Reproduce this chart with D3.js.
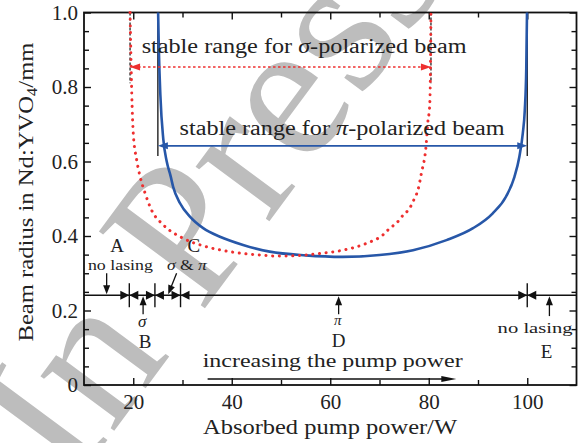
<!DOCTYPE html>
<html><head><meta charset="utf-8">
<script src="https://cdn.jsdelivr.net/npm/d3@7"></script>
<style>body{margin:0;background:#fff}svg{display:block}text{font-family:"Liberation Serif",serif;fill:#222}</style>
</head><body>
<svg id="c" width="579" height="443"></svg>
<script>
// ---- data ----
const xMajorTicks = [20, 40, 60, 80, 100];
const xMinorTicks = [30, 50, 70, 90];
const yMajorTicks = [0, 0.2, 0.4, 0.6, 0.8, 1.0];
const yMinorTicks = [0.05,0.1,0.15,0.25,0.3,0.35,0.45,0.5,0.55,0.65,0.7,0.75,0.85,0.9,0.95];
// pi-polarized beam radius (blue solid)
const piPower = [25.05,25.2,25.5,26.1,26.8,27.6,28.1,29.5,31.5,34.2,37.6,42.3,47.7,55,62.5,70,76.8,83.6,89,93,95.7,97.4,98.4,99.1,99.5,99.8,99.95];
const piRadius = [1.0,0.90,0.78,0.66,0.60,0.56,0.532,0.488,0.452,0.421,0.398,0.376,0.358,0.348,0.344,0.349,0.362,0.389,0.421,0.461,0.506,0.559,0.613,0.676,0.738,0.85,1.0];
// sigma-polarized beam radius (red dotted)
const sigmaPower = [19.35,19.5,19.7,20.0,20.7,21.4,22.4,23.7,26.1,30.1,34.9,39.6,45.7,50,54,58.5,62.6,67.3,70.7,72.1,73.4,74.8,76.1,77.1,77.8,78.5,79.5,79.8,80.2,80.35,80.45];
const sigmaRadius = [1.0,0.9,0.78,0.676,0.604,0.559,0.515,0.470,0.430,0.394,0.371,0.358,0.349,0.346,0.348,0.354,0.362,0.380,0.403,0.421,0.434,0.456,0.474,0.501,0.523,0.568,0.649,0.703,0.752,0.85,1.0];
const sigmaRange = [19.35, 80.45];
const piRange = [25.0, 100.0];
const regionBounds = [19.2, 24.4, 29.6, 100];
const regionLabels = ["A","B","C","D","E"];

// ---- layout ----
const svg = d3.select("#c");
const x = d3.scaleLinear().domain([10,110]).range([84,576.5]);
const y = d3.scaleLinear().domain([0,1]).range([385,12.5]);
const blue = "#2757a8", red = "#ee2f2f";

// watermark
svg.append("text").text("In Press")
  .attr("transform","translate(72,488) rotate(-53.5)")
  .style("font-size","200px").style("fill","#bdbdbd");

// axes
const fmt = d => d === 0 ? "0" : d.toFixed(1);
function ax(gen, tr){ const g = svg.append("g").attr("transform",tr).call(gen); g.select(".domain").remove(); g.selectAll("line").attr("stroke","#111").attr("stroke-width",1.4); g.selectAll("text").style("font-size","21px").style("fill","#222"); return g; }
ax(d3.axisBottom(x).tickValues(xMajorTicks).tickSize(-7).tickPadding(9).tickSizeOuter(0), `translate(0,${y(0)})`);
ax(d3.axisBottom(x).tickValues(xMinorTicks).tickSize(-5).tickFormat("").tickSizeOuter(0), `translate(0,${y(0)})`);
ax(d3.axisTop(x).tickValues(xMajorTicks).tickSize(-7).tickFormat("").tickSizeOuter(0), `translate(0,${y(1)})`);
ax(d3.axisTop(x).tickValues(xMinorTicks).tickSize(-5).tickFormat("").tickSizeOuter(0), `translate(0,${y(1)})`);
ax(d3.axisLeft(y).tickValues(yMajorTicks).tickSize(-7).tickPadding(6).tickFormat(fmt).tickSizeOuter(0), `translate(${x(10)},0)`);
ax(d3.axisLeft(y).tickValues(yMinorTicks).tickSize(-5).tickFormat("").tickSizeOuter(0), `translate(${x(10)},0)`);
ax(d3.axisRight(y).tickValues(yMajorTicks).tickSize(-7).tickFormat("").tickSizeOuter(0), `translate(${x(110)},0)`);
ax(d3.axisRight(y).tickValues(yMinorTicks).tickSize(-5).tickFormat("").tickSizeOuter(0), `translate(${x(110)},0)`);
svg.append("rect").attr("x",x(10)).attr("y",y(1)).attr("width",x(110)-x(10)).attr("height",y(0)-y(1))
  .attr("fill","none").attr("stroke","#111").attr("stroke-width",1.8);

// helper: arrowhead
function head(x1,y1,x2,y2,len,w,color){
  const a = Math.atan2(y2-y1,x2-x1), c=Math.cos(a), s=Math.sin(a);
  const bx = x2-len*c, by = y2-len*s;
  svg.append("path").attr("d",`M${x2},${y2}L${bx - w/2*s},${by + w/2*c}L${bx + w/2*s},${by - w/2*c}Z`).attr("fill",color);
}
function arrow(x1,y1,x2,y2,color,sw,len,w){
  const a = Math.atan2(y2-y1,x2-x1);
  svg.append("line").attr("x1",x1).attr("y1",y1).attr("x2",x2-0.6*len*Math.cos(a)).attr("y2",y2-0.6*len*Math.sin(a)).attr("stroke",color).attr("stroke-width",sw);
  head(x1,y1,x2,y2,len,w,color);
}

// boundary lines
sigmaRange.forEach(p => svg.append("line").attr("x1",x(p)).attr("x2",x(p)).attr("y1",y(1)).attr("y2",y(0.81))
  .attr("stroke","#111").attr("stroke-width",1.2).attr("stroke-dasharray","3,2"));
piRange.forEach(p => svg.append("line").attr("x1",x(p)).attr("x2",x(p)).attr("y1",y(1)).attr("y2",y(0.615))
  .attr("stroke","#111").attr("stroke-width",1.3));

// curves
const line = d3.line().x(d=>x(d[0])).y(d=>y(d[1])).curve(d3.curveMonotoneX);
svg.append("path").datum(piPower.map((p,i)=>[p,piRadius[i]])).attr("d",line)
  .attr("fill","none").attr("stroke",blue).attr("stroke-width",2.6);
svg.append("path").datum(sigmaPower.map((p,i)=>[p,sigmaRadius[i]])).attr("d",line)
  .attr("fill","none").attr("stroke",red).attr("stroke-width",3).attr("stroke-linecap","round").attr("stroke-dasharray","0.1,6.6");

// stable range arrows
const ys = y(0.854), yp = y(0.642);
svg.append("line").attr("x1",x(sigmaRange[0])+8).attr("x2",x(sigmaRange[1])-8).attr("y1",ys).attr("y2",ys)
  .attr("stroke",red).attr("stroke-width",1.5).attr("stroke-dasharray","2.5,2.5");
head(x(50),ys,x(sigmaRange[0]),ys,10,7,red);
head(x(50),ys,x(sigmaRange[1]),ys,10,7,red);
svg.append("line").attr("x1",x(piRange[0])+6).attr("x2",x(piRange[1])-6).attr("y1",yp).attr("y2",yp)
  .attr("stroke",blue).attr("stroke-width",1.6);
head(x(60),yp,x(piRange[0]),yp,10,7,blue);
head(x(60),yp,x(piRange[1]),yp,10,7,blue);

function txt(s, px, py, size, opts={}){
  const t = svg.append("text").attr("x",px).attr("y",py).attr("text-anchor",opts.anchor||"middle").style("font-size",size+"px");
  if (s) t.text(s);
  if (opts.len) t.attr("textLength",opts.len).attr("lengthAdjust","spacingAndGlyphs");
  if (opts.italic) t.style("font-style","italic");
  return t;
}
let t = txt("",x(54.7),y(0.89),20,{len:325});
t.append("tspan").text("stable range for ");
t.append("tspan").text("σ").style("font-style","italic");
t.append("tspan").text("-polarized beam");
t = txt("",x(62.4),y(0.671),20,{len:325});
t.append("tspan").text("stable range for ");
t.append("tspan").text("π").style("font-style","italic");
t.append("tspan").text("-polarized beam");

// region line
const yl = y(0.241);
svg.append("line").attr("x1",x(10)).attr("x2",x(110)).attr("y1",yl).attr("y2",yl).attr("stroke","#111").attr("stroke-width",1.5);
regionBounds.forEach(p=>{
  const px = x(p);
  svg.append("line").attr("x1",px).attr("x2",px).attr("y1",yl-12).attr("y2",yl+12).attr("stroke","#111").attr("stroke-width",1.4);
  head(px-20,yl,px,yl,9,9,"#111");
  head(px+20,yl,px,yl,9,9,"#111");
});
// pointer arrows
arrow(x(14.6),y(0.30),x(14.6),yl-1,"#111",1.3,9,7);
arrow(x(22.0),y(0.19),x(22.0),yl+1,"#111",1.3,9,7);
arrow(x(28.8),y(0.30),x(27.1),yl-1,"#111",1.3,9,7);
arrow(x(61.7),y(0.19),x(61.7),yl+1,"#111",1.3,9,7);
arrow(x(104.5),y(0.185),x(104.5),yl+1,"#111",1.3,9,7);

// region labels
txt(regionLabels[0],x(16.7),y(0.358),19);
txt("no lasing",x(17.4),y(0.309),15,{len:65});
txt(regionLabels[2],x(32.3),y(0.357),19);
t = txt("",x(30.9),y(0.309),15,{len:40});
t.append("tspan").text("σ").style("font-style","italic"); t.append("tspan").text(" & "); t.append("tspan").text("π").style("font-style","italic");
txt("σ",x(21.8),y(0.157),17,{italic:true});
txt(regionLabels[1],x(22.4),y(0.099),19);
txt("π",x(61.5),y(0.161),15,{italic:true});
txt(regionLabels[3],x(61.7),y(0.102),19);
txt("no lasing",x(101.6),y(0.140),15,{len:75});
txt(regionLabels[4],x(103.9),y(0.072),19);
txt("increasing the pump power",x(60.5),y(0.049),19,{len:260});
arrow(x(35.1),y(0.016),x(85.6),y(0.016),"#111",1.4,15,6);

// axis titles
txt("Absorbed pump power/W",330,434,20,{len:254});
t = svg.append("text").attr("transform","translate(33,192) rotate(-90)").attr("text-anchor","middle")
  .style("font-size","21px").attr("textLength",299).attr("lengthAdjust","spacingAndGlyphs");
t.append("tspan").text("Beam radius in Nd:YVO");
t.append("tspan").text("4").style("font-size","14px").attr("dy",4);
t.append("tspan").text("/mm").attr("dy",-4);
</script>
</body></html>
